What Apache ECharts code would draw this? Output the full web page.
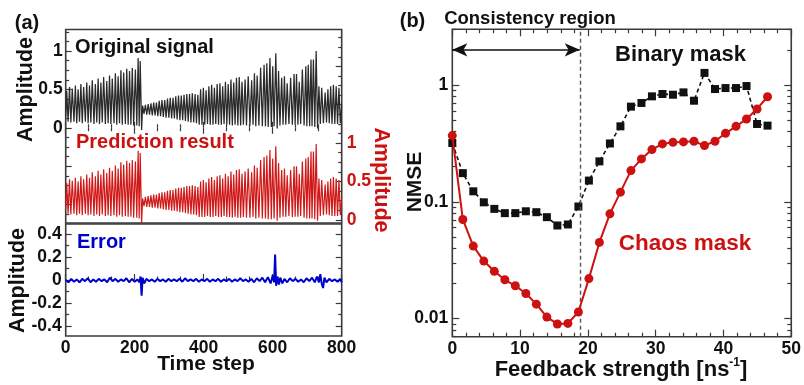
<!DOCTYPE html>
<html>
<head>
<meta charset="utf-8">
<script src="https://cdn.jsdelivr.net/npm/echarts@6.0.0/dist/echarts.min.js"></script>
<style>
html,body{margin:0;padding:0;background:#fff;}
#chart{width:804px;height:385px;}
</style>
</head>
<body>
<div id="chart"></div>
<script>
// ---------- Panel (a): time series (peaks / troughs) ----------
const timeStep = [
  0,3,7,11,15,19,24,28,32,36,40,44,48,52,57,61,65,69,73,77,82,86,90,94,98,102,106,110,115,119,123,127,131,135,140,144,148,152,156,160,164,168,173,177,181,185,189,193,197,202,206,210,213,216,220,
  223,227,231,235,239,243,247,251,255,259,263,267,271,275,279,283,287,291,295,299,303,307,311,315,319,323,327,331,335,339,343,347,351,355,359,363,367,371,375,379,383,387,
  391,395,399,403,407,411,415,419,423,427,431,435,439,443,447,451,455,459,463,467,471,475,479,483,487,491,495,499,503,507,511,515,
  520,524,529,534,539,543,547,551,555,560,565,570,575,579,583,587,592,596,600,604,609,613,617,621,626,630,634,638,642,647,652,657,662,665,669,673,677,681,686,691,696,699,703,707,711,714,718,722,726,730,734,738,742,747,752,756,760,764,768,772,776,780,784,788,792,796,800
];
const originalSignal = [
  0.15,0.48,0.08,0.53,0.07,0.51,0.08,0.55,0.06,0.50,0.08,0.57,0.06,0.53,0.08,0.59,0.06,0.55,0.07,0.62,0.05,0.57,0.07,0.64,0.05,0.59,0.07,0.66,0.05,0.61,0.06,0.68,0.05,0.64,0.06,0.71,0.04,0.67,0.06,0.75,0.04,0.72,0.05,0.77,0.04,0.74,0.04,0.78,0.03,0.76,0.03,0.91,0.02,0.87,-0.03,
  0.29,0.18,0.30,0.17,0.31,0.17,0.32,0.16,0.33,0.16,0.33,0.15,0.35,0.15,0.36,0.14,0.36,0.13,0.38,0.13,0.39,0.12,0.39,0.12,0.41,0.11,0.42,0.10,0.42,0.10,0.43,0.09,0.44,0.08,0.44,0.07,0.45,0.07,0.44,0.06,0.43,0.04,
  0.50,0.04,0.52,0.04,0.49,0.05,0.54,0.04,0.56,0.04,0.52,0.05,0.57,0.04,0.58,0.04,0.54,0.05,0.60,0.04,0.57,0.04,0.63,0.03,0.59,0.04,0.65,0.03,0.66,0.03,0.60,0.04,
  0.63,0.03,0.67,0.03,0.62,0.04,0.71,0.02,0.68,0.03,0.78,0.02,0.82,0.02,0.84,0.01,0.91,0.01,0.80,0.02,0.97,-0.01,0.74,0.03,0.65,0.04,0.67,0.04,0.58,0.05,0.65,0.04,0.70,0.04,0.70,0.04,0.60,0.05,0.76,0.03,0.80,0.02,0.82,0.02,0.89,0.02,0.89,0.01,1.00,-0.01,0.54,0.05,0.52,0.06,0.46,0.07,0.50,0.06,0.54,0.05,0.56,0.05,0.54,0.05,0.52,0.06,0.30
];
const predictionResult = [
  0.15,0.48,0.08,0.53,0.07,0.51,0.08,0.55,0.06,0.50,0.08,0.57,0.06,0.53,0.08,0.59,0.06,0.55,0.07,0.62,0.05,0.57,0.07,0.64,0.05,0.59,0.07,0.66,0.05,0.61,0.06,0.68,0.05,0.64,0.06,0.71,0.04,0.67,0.06,0.75,0.04,0.72,0.05,0.77,0.04,0.74,0.04,0.78,0.03,0.76,0.03,0.90,0.02,0.87,-0.04,
  0.28,0.18,0.30,0.17,0.31,0.17,0.32,0.16,0.33,0.16,0.33,0.15,0.35,0.15,0.36,0.14,0.36,0.13,0.38,0.13,0.39,0.12,0.39,0.12,0.41,0.11,0.42,0.10,0.42,0.10,0.43,0.09,0.44,0.08,0.44,0.07,0.45,0.07,0.44,0.06,0.43,0.04,
  0.50,0.04,0.52,0.04,0.49,0.05,0.54,0.04,0.56,0.04,0.52,0.05,0.57,0.04,0.58,0.04,0.54,0.05,0.60,0.04,0.57,0.04,0.63,0.03,0.59,0.04,0.65,0.03,0.66,0.03,0.60,0.04,
  0.63,0.03,0.67,0.03,0.62,0.04,0.71,0.02,0.68,0.03,0.78,0.02,0.82,0.02,0.84,0.01,0.91,0.01,0.80,0.02,0.96,-0.01,0.74,0.03,0.65,0.04,0.67,0.04,0.58,0.05,0.65,0.04,0.70,0.04,0.70,0.04,0.60,0.05,0.76,0.03,0.80,0.02,0.82,0.02,0.89,0.02,0.89,0.01,0.99,-0.01,0.54,0.05,0.52,0.06,0.46,0.07,0.50,0.06,0.54,0.05,0.56,0.05,0.54,0.05,0.52,0.06,0.30
];
const errorStep = [
  0,8,16,24,32,40,48,56,64,72,80,88,96,104,112,120,128,136,144,152,160,168,176,184,192,200,208,214,217,220,223,228,234,242,250,258,266,274,282,290,298,306,314,322,330,338,346,354,362,370,378,386,394,402,410,418,426,434,442,450,458,466,474,482,490,498,506,514,522,530,538,546,554,562,570,578,586,594,600,604,607,610,614,618,622,628,634,642,650,658,666,674,682,690,698,706,714,722,728,734,738,742,746,750,756,764,772,780,788,796,800
];
const errorAmp = [
  0.00,-0.02,0.01,-0.015,0.005,-0.02,0.01,-0.01,0.015,-0.02,0.005,-0.015,0.01,-0.01,0.005,-0.02,0.02,-0.01,0.01,-0.015,0.005,-0.01,0.015,-0.02,0.01,-0.015,0.005,-0.02,0.03,-0.135,0.02,-0.03,0.01,-0.01,0.005,-0.015,0.01,-0.01,0.005,-0.015,0.01,-0.01,0.005,-0.01,0.01,-0.015,0.015,-0.01,0.005,-0.01,0.01,-0.015,0.005,-0.01,0.01,-0.015,0.005,-0.01,0.01,-0.015,0.005,-0.01,0.01,-0.015,0.005,-0.01,0.015,-0.01,0.005,-0.015,0.01,-0.02,0.015,-0.01,0.02,-0.02,0.025,-0.03,0.04,-0.02,0.22,-0.05,0.03,-0.04,0.02,-0.03,0.01,-0.02,0.015,-0.01,0.01,-0.015,0.005,-0.02,0.015,-0.01,0.02,-0.02,0.03,-0.02,0.05,-0.03,-0.07,0.02,-0.02,0.01,-0.01,0.005,-0.015,0.01,-0.02
];
const timeTicks = [0, 200, 400, 600, 800];

// ---------- Panel (b): NMSE vs feedback strength ----------
const feedbackStrength = [0,1.55,3.1,4.65,6.2,7.75,9.3,10.85,12.4,13.95,15.5,17.05,18.6,20.15,21.7,23.25,24.8,26.35,27.9,29.45,31,32.55,34.1,35.65,37.2,38.75,40.3,41.85,43.4,44.95,46.5];
const binaryMaskNMSE = [0.319,0.176,0.123,0.099,0.087,0.080,0.080,0.083,0.0815,0.0739,0.0627,0.064,0.0912,0.152,0.222,0.316,0.443,0.653,0.702,0.800,0.838,0.826,0.865,0.734,1.27,0.924,0.942,0.942,0.98,0.464,0.449];
const chaosMaskNMSE = [0.369,0.0706,0.0418,0.0311,0.0254,0.0215,0.0191,0.0164,0.0133,0.0103,0.0090,0.0091,0.0114,0.0220,0.0449,0.0789,0.121,0.185,0.233,0.280,0.313,0.323,0.326,0.330,0.303,0.330,0.386,0.443,0.512,0.624,0.794];
const consistencyLimit = 18.8;
const arrowLevel = 2.0;
const nmseLabels = [0.01, 0.1, 1];
const nmseMinor = [0.007,0.008,0.009,0.02,0.03,0.04,0.05,0.06,0.07,0.08,0.09,0.2,0.3,0.4,0.5,0.6,0.7,0.8,0.9,2,3];

// ---------- styling ----------
const FONT = '"Liberation Sans", Arial, Helvetica, sans-serif';
const RED = '#cc1111';
const BLUE = '#0000cc';
const INK = '#111';
const FRAME = '#3a3a3a';
const labelStyle = {fontFamily: FONT, fontWeight: 'bold', fontSize: 17.5, color: INK};

function pairs(xs, ys) {
  const n = Math.min(xs.length, ys.length);
  const out = [];
  for (let i = 0; i < n; i++) out.push([xs[i], ys[i]]);
  return out;
}
function tickAxis(base, values, len, labels) {
  return Object.assign({
    type: 'value',
    axisLine: {show: false},
    splitLine: {show: false},
    axisTick: {show: true, inside: true, length: len, customValues: values, lineStyle: {color: FRAME, width: 1.2}},
    axisLabel: labels ? labels : {show: false}
  }, base);
}

const chart = echarts.init(document.getElementById('chart'), null, {renderer: 'canvas'});

const gridA = {left: 65.7, top: 29.5, width: 276, height: 193.5};
const gridE = {left: 65.7, top: 224, width: 276, height: 112};
const gridB = {left: 452.3, top: 29.3, width: 341.7, height: 307.4};

const gridStyle = {show: true, borderColor: FRAME, borderWidth: 1.6, backgroundColor: 'transparent', containLabel: false};

const xTickCommon = (gi, pos, showLabel) => ({
  type: 'value', gridIndex: gi, position: pos, min: 0, max: 800, interval: 200,
  axisLine: {show: false}, splitLine: {show: false},
  axisTick: {show: true, inside: true, length: 6, lineStyle: {color: FRAME, width: 1.2}},
  minorTick: {show: true, splitNumber: 3, length: 3.5, lineStyle: {color: FRAME, width: 1.2}},
  axisLabel: showLabel ? Object.assign({show: true, margin: 3, customValues: timeTicks}, labelStyle) : {show: false}
});

const option = {
  animation: false,
  backgroundColor: '#ffffff',
  grid: [Object.assign({}, gridStyle, gridA), Object.assign({}, gridStyle, gridE), Object.assign({}, gridStyle, gridB)],
  xAxis: [
    xTickCommon(0, 'bottom', false),
    xTickCommon(0, 'top', false),
    xTickCommon(1, 'bottom', true),
    {
      type: 'value', gridIndex: 2, position: 'bottom', min: 0, max: 50, interval: 10,
      axisLine: {show: false}, splitLine: {show: false},
      axisTick: {show: true, inside: true, length: 7, lineStyle: {color: FRAME, width: 1.2}},
      minorTick: {show: true, splitNumber: 5, length: 4, lineStyle: {color: FRAME, width: 1.2}},
      axisLabel: Object.assign({show: true, margin: 3}, labelStyle)
    },
    {
      type: 'value', gridIndex: 2, position: 'top', min: 0, max: 50, interval: 10,
      axisLine: {show: false}, splitLine: {show: false},
      axisTick: {show: true, inside: true, length: 7, lineStyle: {color: FRAME, width: 1.2}},
      minorTick: {show: true, splitNumber: 5, length: 4, lineStyle: {color: FRAME, width: 1.2}},
      axisLabel: {show: false}
    }
  ],
  yAxis: [
    tickAxis({gridIndex: 0, position: 'left', min: -1.24, max: 1.28}, [-1, -0.5, 0, 0.5, 1], 6,
      Object.assign({show: true, margin: 3, customValues: [0, 0.5, 1]}, labelStyle)),
    tickAxis({gridIndex: 0, position: 'left', min: -1.24, max: 1.28},
      [-1.125,-0.875,-0.75,-0.625,-0.375,-0.25,-0.125,0.125,0.25,0.375,0.625,0.75,0.875,1.125,1.25], 3.5),
    tickAxis({gridIndex: 0, position: 'right', min: -0.04, max: 2.48}, [0, 0.5, 1, 1.5, 2], 6,
      Object.assign({show: true, margin: 5, customValues: [0, 0.5, 1]}, labelStyle, {color: RED})),
    tickAxis({gridIndex: 0, position: 'right', min: -0.04, max: 2.48},
      [0.125,0.25,0.375,0.625,0.75,0.875,1.125,1.25,1.375,1.625,1.75,1.875,2.125,2.25,2.375], 3.5),
    tickAxis({gridIndex: 1, position: 'left', min: -0.485, max: 0.485}, [-0.4, -0.2, 0, 0.2, 0.4], 6,
      Object.assign({show: true, margin: 4, customValues: [-0.4, -0.2, 0, 0.2, 0.4]}, labelStyle)),
    tickAxis({gridIndex: 1, position: 'left', min: -0.485, max: 0.485}, [-0.3, -0.1, 0.1, 0.3], 3.5),
    tickAxis({gridIndex: 1, position: 'right', min: -0.485, max: 0.485}, [-0.4, -0.2, 0, 0.2, 0.4], 6),
    tickAxis({gridIndex: 1, position: 'right', min: -0.485, max: 0.485}, [-0.3, -0.1, 0.1, 0.3], 3.5),
    {
      type: 'log', logBase: 10, gridIndex: 2, position: 'left', min: 0.007, max: 3,
      axisLine: {show: false}, splitLine: {show: false},
      axisTick: {show: true, inside: true, length: 7, customValues: nmseLabels, lineStyle: {color: FRAME, width: 1.2}},
      axisLabel: Object.assign({show: true, margin: 4, customValues: nmseLabels}, labelStyle)
    },
    {
      type: 'log', logBase: 10, gridIndex: 2, position: 'left', min: 0.007, max: 3,
      axisLine: {show: false}, splitLine: {show: false},
      axisTick: {show: true, inside: true, length: 4, customValues: nmseMinor, lineStyle: {color: FRAME, width: 1.2}},
      axisLabel: {show: false}
    },
    {
      type: 'log', logBase: 10, gridIndex: 2, position: 'right', min: 0.007, max: 3,
      axisLine: {show: false}, splitLine: {show: false},
      axisTick: {show: true, inside: true, length: 7, customValues: nmseLabels, lineStyle: {color: FRAME, width: 1.2}},
      axisLabel: {show: false}
    },
    {
      type: 'log', logBase: 10, gridIndex: 2, position: 'right', min: 0.007, max: 3,
      axisLine: {show: false}, splitLine: {show: false},
      axisTick: {show: true, inside: true, length: 4, customValues: nmseMinor, lineStyle: {color: FRAME, width: 1.2}},
      axisLabel: {show: false}
    }
  ],
  series: [
    {
      name: 'Original signal', type: 'line', xAxisIndex: 0, yAxisIndex: 0,
      data: pairs(timeStep, originalSignal), showSymbol: false, symbol: 'none',
      lineStyle: {color: '#2a2a2a', width: 1.25}, z: 3
    },
    {
      name: 'Prediction result', type: 'line', xAxisIndex: 0, yAxisIndex: 2,
      data: pairs(timeStep, predictionResult), showSymbol: false, symbol: 'none',
      lineStyle: {color: '#d01818', width: 1.2}, z: 2
    },
    {
      name: 'Error', type: 'line', xAxisIndex: 2, yAxisIndex: 4,
      data: pairs(errorStep, errorAmp), showSymbol: false, symbol: 'none',
      lineStyle: {color: BLUE, width: 2}
    },
    {
      name: 'Binary mask', type: 'line', xAxisIndex: 3, yAxisIndex: 8,
      data: pairs(feedbackStrength, binaryMaskNMSE),
      symbol: 'rect', symbolSize: 8,
      itemStyle: {color: '#111'},
      lineStyle: {color: '#111', width: 1.6, type: [4, 3]},
      z: 4,
      markLine: {
        silent: true, symbol: 'none', animation: false,
        label: {show: false},
        lineStyle: {color: '#555', width: 1.4, type: [4, 3]},
        data: [{xAxis: consistencyLimit}]
      }
    },
    {
      name: 'Chaos mask', type: 'line', xAxisIndex: 3, yAxisIndex: 8,
      data: pairs(feedbackStrength, chaosMaskNMSE),
      symbol: 'circle', symbolSize: 9,
      itemStyle: {color: RED},
      lineStyle: {color: RED, width: 2},
      z: 5,
      markLine: {
        silent: true, animation: false,
        symbol: ['arrow', 'arrow'], symbolSize: [10, 15],
        label: {show: false},
        lineStyle: {color: '#111', width: 1.6, type: 'solid'},
        data: [[{coord: [0, arrowLevel]}, {coord: [consistencyLimit, arrowLevel]}]]
      }
    }
  ],
  graphic: [
    {type: 'text', x: 27, y: 23, style: {text: '(a)', fill: INK, font: 'bold 20px ' + FONT, align: 'center', verticalAlign: 'middle'}},
    {type: 'text', x: 412.5, y: 21, style: {text: '(b)', fill: INK, font: 'bold 20px ' + FONT, align: 'center', verticalAlign: 'middle'}},
    {type: 'text', x: 530, y: 18.5, style: {text: 'Consistency region', fill: INK, font: 'bold 18.5px ' + FONT, align: 'center', verticalAlign: 'middle'}},
    {type: 'text', x: 75, y: 47, style: {text: 'Original signal', fill: INK, font: 'bold 20px ' + FONT, align: 'left', verticalAlign: 'middle'}},
    {type: 'text', x: 76, y: 142, style: {text: 'Prediction result', fill: RED, font: 'bold 20px ' + FONT, align: 'left', verticalAlign: 'middle'}},
    {type: 'text', x: 77, y: 242.5, style: {text: 'Error', fill: BLUE, font: 'bold 20px ' + FONT, align: 'left', verticalAlign: 'middle'}},
    {type: 'text', x: 680.5, y: 55, style: {text: 'Binary mask', fill: INK, font: 'bold 22px ' + FONT, align: 'center', verticalAlign: 'middle'}},
    {type: 'text', x: 685, y: 243.5, style: {text: 'Chaos mask', fill: RED, font: 'bold 22.5px ' + FONT, align: 'center', verticalAlign: 'middle'}},
    {type: 'text', x: 26.5, y: 89.5, rotation: Math.PI / 2, style: {text: 'Amplitude', fill: INK, font: 'bold 21.5px ' + FONT, align: 'center', verticalAlign: 'middle'}},
    {type: 'text', x: 18, y: 280.5, rotation: Math.PI / 2, style: {text: 'Amplitude', fill: INK, font: 'bold 21.5px ' + FONT, align: 'center', verticalAlign: 'middle'}},
    {type: 'text', x: 381, y: 180, rotation: -Math.PI / 2, style: {text: 'Amplitude', fill: RED, font: 'bold 21.5px ' + FONT, align: 'center', verticalAlign: 'middle'}},
    {type: 'text', x: 415, y: 182, rotation: Math.PI / 2, style: {text: 'NMSE', fill: INK, font: 'bold 21px ' + FONT, align: 'center', verticalAlign: 'middle'}},
    {type: 'text', x: 206, y: 364, style: {text: 'Time step', fill: INK, font: 'bold 21px ' + FONT, align: 'center', verticalAlign: 'middle'}},
    {type: 'text', x: 621, y: 369, style: {
      text: '{a|Feedback strength [ns}{s|-1}{a|]}', align: 'center', verticalAlign: 'middle',
      rich: {
        a: {fontFamily: FONT, fontWeight: 'bold', fontSize: 22, fill: INK, lineHeight: 24, verticalAlign: 'bottom'},
        s: {fontFamily: FONT, fontWeight: 'bold', fontSize: 12, fill: INK, lineHeight: 14, verticalAlign: 'top'}
      }
    }}
  ]
};
chart.setOption(option);
</script>
</body>
</html>
